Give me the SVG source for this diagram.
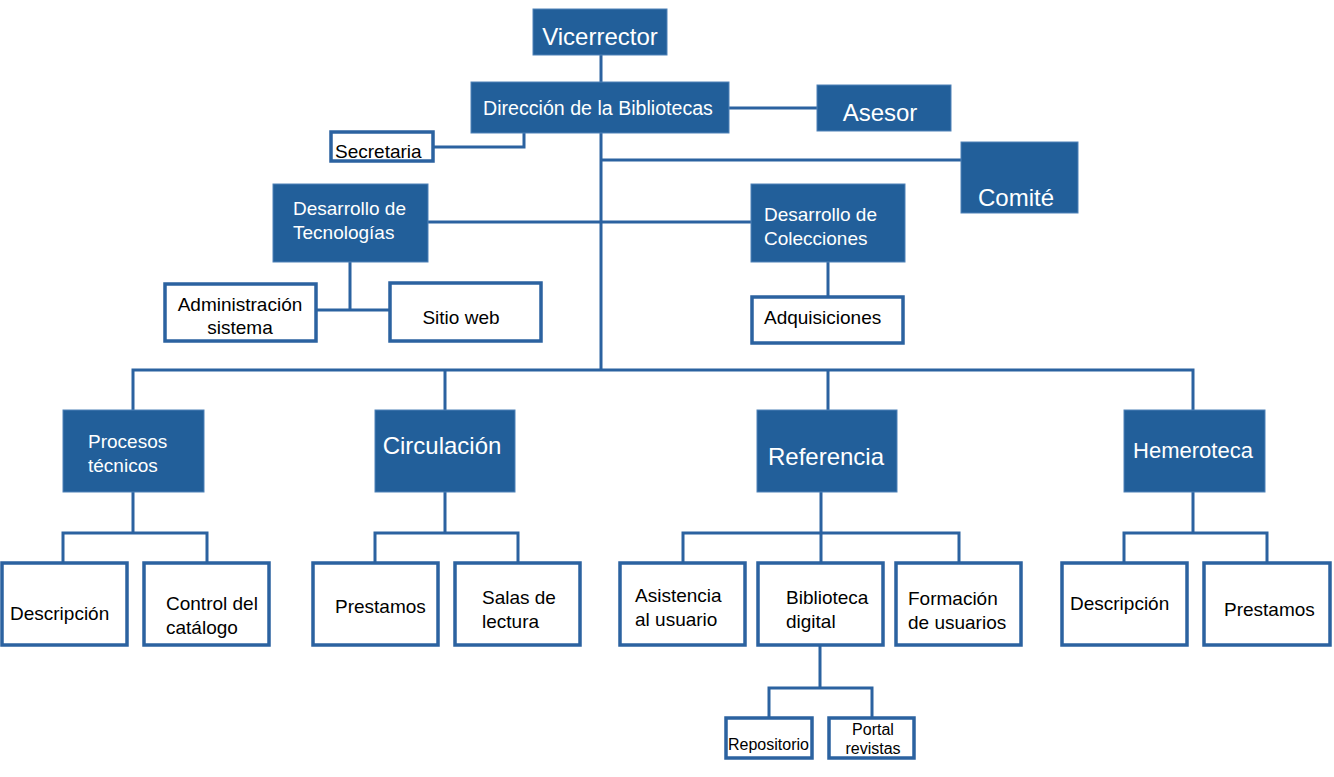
<svg xmlns="http://www.w3.org/2000/svg" width="1334" height="777" viewBox="0 0 1334 777">
<style>
.b{fill:#225f9a;stroke:#4f82b8;stroke-width:1}
.w{fill:#fff;stroke:#2b62a0;stroke-width:3.5}
.c{fill:none;stroke:#2b62a0;stroke-width:3}
text{font-family:"Liberation Sans",Arial,sans-serif}
.tw{fill:#fff}
.tk{fill:#000}
.L{font-size:24px}
.M{font-size:19px}
.S{font-size:16px}
</style>
<rect width="1334" height="777" fill="#fff"/>
<g id="connectors">
<path class="c" d="M601 55V370"/>
<path class="c" d="M433 147H524V133"/>
<path class="c" d="M729 108H817"/>
<path class="c" d="M601 160H961"/>
<path class="c" d="M428 222H751"/>
<path class="c" d="M350 262V310M316 310H390"/>
<path class="c" d="M828 262V297"/>
<path class="c" d="M133 410V370H1193V410M445 370V410M828 370V410"/>
<path class="c" d="M133 492V533M63 563V533H207V563"/>
<path class="c" d="M445 492V533M375 563V533H518V563"/>
<path class="c" d="M821 492V563M683 563V533H959V563"/>
<path class="c" d="M1193 492V533M1124 563V533H1267V563"/>
<path class="c" d="M820 645V688M769 718V688H872V718"/>
</g>
<g id="vicerrector"><rect class="b" x="533" y="9" width="134" height="46"/><text class="tw L" x="600" y="45" text-anchor="middle">Vicerrector</text></g>
<g id="direccion"><rect class="b" x="471" y="82" width="258" height="51"/><text class="tw" x="598" y="115" text-anchor="middle" style="font-size:19.6px">Dirección de la Bibliotecas</text></g>
<g id="asesor"><rect class="b" x="817" y="85" width="134" height="46"/><text class="tw L" x="880" y="121" text-anchor="middle">Asesor</text></g>
<g id="secretaria"><rect class="w" x="331" y="132" width="102" height="29"/><text class="tk M" x="335" y="158">Secretaria</text></g>
<g id="comite"><rect class="b" x="961" y="142" width="117" height="71"/><text class="tw L" x="1016" y="206" text-anchor="middle">Comité</text></g>
<g id="des-tecnologias"><rect class="b" x="273" y="184" width="155" height="78"/><text class="tw M" x="293" y="215">Desarrollo de</text><text class="tw M" x="293" y="239">Tecnologías</text></g>
<g id="des-colecciones"><rect class="b" x="751" y="184" width="154" height="78"/><text class="tw M" x="764" y="221">Desarrollo de</text><text class="tw M" x="764" y="245">Colecciones</text></g>
<g id="admin-sistema"><rect class="w" x="165" y="284" width="151" height="57"/><text class="tk M" x="240" y="311" text-anchor="middle">Administración</text><text class="tk M" x="240" y="334" text-anchor="middle">sistema</text></g>
<g id="sitio-web"><rect class="w" x="390" y="283" width="151" height="58"/><text class="tk M" x="461" y="324" text-anchor="middle">Sitio web</text></g>
<g id="adquisiciones"><rect class="w" x="752" y="297" width="151" height="46"/><text class="tk M" x="764" y="324">Adquisiciones</text></g>
<g id="procesos"><rect class="b" x="63" y="410" width="141" height="82"/><text class="tw M" x="88" y="448">Procesos</text><text class="tw M" x="88" y="472">técnicos</text></g>
<g id="circulacion"><rect class="b" x="375" y="410" width="140" height="82"/><text class="tw L" x="442" y="454" text-anchor="middle">Circulación</text></g>
<g id="referencia"><rect class="b" x="757" y="410" width="140" height="82"/><text class="tw L" x="826" y="465" text-anchor="middle">Referencia</text></g>
<g id="hemeroteca"><rect class="b" x="1124" y="410" width="141" height="82"/><text class="tw" x="1193" y="458" text-anchor="middle" style="font-size:22px">Hemeroteca</text></g>
<g id="descripcion1"><rect class="w" x="2" y="563" width="125" height="82"/><text class="tk M" x="10" y="620">Descripción</text></g>
<g id="control-catalogo"><rect class="w" x="144" y="563" width="125" height="82"/><text class="tk M" x="166" y="610">Control del</text><text class="tk M" x="166" y="634">catálogo</text></g>
<g id="prestamos1"><rect class="w" x="313" y="563" width="125" height="82"/><text class="tk M" x="335" y="613">Prestamos</text></g>
<g id="salas"><rect class="w" x="455" y="563" width="125" height="82"/><text class="tk M" x="482" y="604">Salas de</text><text class="tk M" x="482" y="628">lectura</text></g>
<g id="asistencia"><rect class="w" x="620" y="563" width="125" height="82"/><text class="tk M" x="635" y="602">Asistencia</text><text class="tk M" x="635" y="626">al usuario</text></g>
<g id="biblioteca-digital"><rect class="w" x="758" y="563" width="125" height="82"/><text class="tk M" x="786" y="604">Biblioteca</text><text class="tk M" x="786" y="628">digital</text></g>
<g id="formacion"><rect class="w" x="896" y="563" width="125" height="82"/><text class="tk M" x="908" y="605">Formación</text><text class="tk M" x="908" y="629">de usuarios</text></g>
<g id="descripcion2"><rect class="w" x="1062" y="563" width="125" height="82"/><text class="tk M" x="1070" y="610">Descripción</text></g>
<g id="prestamos2"><rect class="w" x="1204" y="563" width="126" height="82"/><text class="tk M" x="1224" y="616">Prestamos</text></g>
<g id="repositorio"><rect class="w" x="726" y="718" width="86" height="40"/><text class="tk S" x="728" y="750">Repositorio</text></g>
<g id="portal-revistas"><rect class="w" x="829" y="718" width="85" height="40"/><text class="tk S" x="873" y="735" text-anchor="middle">Portal</text><text class="tk S" x="873" y="754" text-anchor="middle">revistas</text></g>
</svg>
